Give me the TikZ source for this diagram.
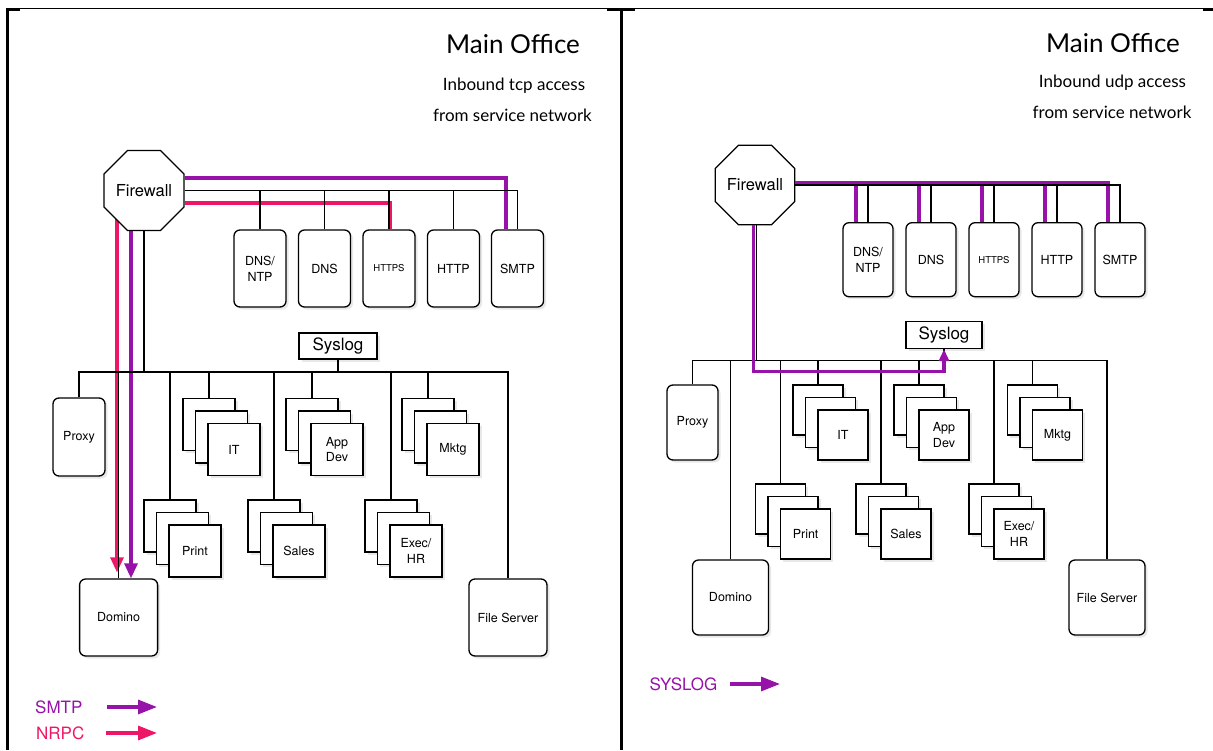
\documentclass[tikz,border=0pt]{standalone}
\usepackage{fontspec}
\setmainfont{TeX Gyre Heros}
\newfontfamily\titlefont{Lato}
\usetikzlibrary{shapes.geometric,shadows,arrows.meta,backgrounds}
\definecolor{smtpcol}{RGB}{150,18,168}
\definecolor{nrpccol}{RGB}{238,22,102}
\newcommand{\deptstack}[4]% name, x, y (back box), label
{\node[deptbox] (#1a) at (#2,#3) {};
\node[deptbox] (#1b) at (#2+12.5,#3+12.5) {};
\node[deptbox] (#1c) at (#2+25,#3+25) {#4};
}
\tikzset{
	wire/.style={line width=1.1pt},
	smtpline/.style={draw=smtpcol,line width=3.2pt},
	nrpcline/.style={draw=nrpccol,line width=3.2pt},
	syslogline/.style={smtpline},
	flowtip/.style={-{Triangle[length=15pt,width=13pt]}},
	logtip/.style={-{Triangle[length=12pt,width=10pt]}},
	keytip/.style={-{Triangle[length=19pt,width=14pt]}},
	boxshadow/.style={drop shadow={shadow xshift=2.5pt,shadow yshift=-2.5pt,opacity=0.18}},
	firewall/.style={regular polygon,regular polygon sides=8,draw,line width=1.3pt,fill=white,inner sep=0pt,font=\fontsize{16.5}{18}\selectfont},
	server/.style={draw,line width=1.3pt,fill=white,rounded corners=6pt,boxshadow,align=center,inner sep=0pt,font=\fontsize{12.5}{16}\selectfont},
	deptbox/.style={draw,line width=1.3pt,fill=white,boxshadow,align=center,minimum size=52pt,inner sep=0pt,font=\fontsize{12.5}{15.5}\selectfont},
	logbox/.style={draw,line width=1.3pt,fill=white,boxshadow,inner sep=0pt,font=\fontsize{17}{18}\selectfont},
	heading/.style={anchor=base,inner sep=0pt,font=\titlefont\fontsize{26}{28}\selectfont},
	subheading/.style={anchor=base,inner sep=0pt,font=\titlefont\fontsize{17}{19}\selectfont},
	keytext/.style={anchor=west,inner sep=0pt,font=\fontsize{17}{18}\selectfont},
}
\begin{document}
\begin{tikzpicture}[x=1pt,y=-1pt]
	\useasboundingbox (0,0) rectangle (1213,750);
	% frame of the two panels
	\draw[line width=1pt] (6,8) -- (1213,8);
	\draw[line width=3pt] (7.5,8) -- (7.5,750);
	\draw[line width=3pt] (621.5,8) -- (621.5,750);
	\draw[line width=2.5pt] (6,10) -- (20,10);
	\draw[line width=2.5pt] (607,10) -- (635,10);
	\draw[line width=2.5pt] (1203,10) -- (1213,10);

	% left panel: tcp
	\node[heading] (titleL) at (513,53) {Main Office};
	\node[subheading] (tcpL) at (514,90) {Inbound tcp access};
	\node[subheading] (fromL) at (512.5,121.5) {from service network};
	\node[firewall,minimum size=86.6pt] (fwL) at (144,190.5) {Firewall};
	\node[server,minimum width=52pt,minimum height=77pt] (dnsntpL) at (260,268.5) {DNS/\\NTP};
	\node[server,minimum width=52pt,minimum height=77pt] (dnsL) at (324.5,268.5) {DNS};
	\node[server,minimum width=52pt,minimum height=77pt,font=\fontsize{9.5}{11}\selectfont] (httpsL) at (389,268.5) {HTTPS};
	\node[server,minimum width=52pt,minimum height=77pt] (httpL) at (453.5,268.5) {HTTP};
	\node[server,minimum width=52pt,minimum height=77pt] (smtpL) at (517.5,268.5) {SMTP};
	\node[logbox,minimum width=78pt,minimum height=26pt] (syslogL) at (338,346) {Syslog};
	\node[server,minimum width=52pt,minimum height=78pt] (proxyL) at (79,437) {Proxy};
	\node[server,minimum width=78pt,minimum height=77pt] (dominoL) at (118.6,617.5) {Domino};
	\node[server,minimum width=78pt,minimum height=77pt] (fileL) at (508,617.5) {File Server};
	\deptstack{itL}{209}{424.5}{IT}
	\deptstack{appL}{312}{424.5}{App\\Dev}
	\deptstack{mktgL}{428}{424.5}{Mktg}
	\deptstack{printL}{170}{526}{Print}
	\deptstack{salesL}{274}{526}{Sales}
	\deptstack{execL}{391}{526}{Exec/\\HR}

	\coordinate (busL) at (0,372);
	\draw[nrpcline] ([yshift=-12.5pt]fwL.east) -| ([xshift=1pt]httpsL.north);
	\draw[smtpline] ([yshift=12.5pt]fwL.east) -| ([xshift=-11.5pt]smtpL.north);
	\draw[wire] (fwL.east) -| (smtpL.north);
	\foreach \s in {dnsntpL,dnsL,httpsL,httpL}
		\draw[wire] (\s.north) -- (\s.north |- fwL.east);
	\draw[wire] (fwL.south) -- (fwL.south |- busL);
	\draw[wire] (proxyL.north) |- (busL -| fileL.north) -- (fileL.north);
	\draw[wire] (syslogL.south) -- (syslogL.south |- busL);
	\foreach \s in {dominoL,itLa,appLa,mktgLa,printLa,salesLa,execLa}
		\draw[wire] (\s.north) -- (\s.north |- busL);
	% traffic into Domino
	\coordinate (nrpcL) at ([xshift=-27pt]fwL.center);
	\coordinate (smtpdL) at ([xshift=-13pt]fwL.center);
	\begin{scope}[on background layer]
		\draw[nrpcline,flowtip,shorten >=6pt] (nrpcL) -- (nrpcL |- dominoL.north);
		\draw[smtpline,flowtip] (smtpdL) -- (smtpdL |- dominoL.north);
	\end{scope}
	\node[keytext,text=smtpcol] (smtpkey) at (35,707) {SMTP};
	\node[keytext,text=nrpccol] (nrpckey) at (36,733) {NRPC};
	\coordinate (smtpkeyend) at (157,707);
	\coordinate (nrpckeyend) at (157,733);
	\draw[smtpline,keytip] ([xshift=24pt]smtpkey.east) -- (smtpkeyend);
	\draw[nrpcline,keytip] ([xshift=21pt]nrpckey.east) -- (nrpckeyend);

	% right panel: udp
	\node[heading] (titleR) at (1113,52) {Main Office};
	\node[subheading] (udpR) at (1112.5,87) {Inbound udp access};
	\node[subheading] (fromR) at (1112,118) {from service network};
	\node[firewall,minimum size=83.3pt] (fwR) at (755,185) {Firewall};
	\node[server,minimum width=50pt,minimum height=74pt] (dnsntpR) at (868,259.7) {DNS/\\NTP};
	\node[server,minimum width=50pt,minimum height=74pt] (dnsR) at (931,259.7) {DNS};
	\node[server,minimum width=50pt,minimum height=74pt,font=\fontsize{9.5}{11}\selectfont] (httpsR) at (994,259.7) {HTTPS};
	\node[server,minimum width=50pt,minimum height=74pt] (httpR) at (1057,259.7) {HTTP};
	\node[server,minimum width=50pt,minimum height=74pt] (smtpR) at (1120,259.7) {SMTP};
	\node[logbox,minimum width=76pt,minimum height=27pt] (syslogR) at (944,335) {Syslog};
	\node[server,minimum width=51pt,minimum height=75pt] (proxyR) at (692.5,422.5) {Proxy};
	\node[server,minimum width=76pt,minimum height=75pt] (dominoR) at (730.5,597.5) {Domino};
	\node[server,minimum width=76pt,minimum height=75pt] (fileR) at (1107,597.5) {File Server};
	\begin{scope}[deptbox/.append style={minimum size=50pt}]
		\deptstack{itR}{818}{410}{IT}
		\deptstack{appR}{919}{410}{App\\Dev}
		\deptstack{mktgR}{1032.5}{410}{Mktg}
		\deptstack{printR}{780.6}{509}{Print}
		\deptstack{salesR}{881}{509}{Sales}
		\deptstack{execR}{994}{509}{Exec/\\HR}
	\end{scope}

	\coordinate (busR) at (0,360.7);
	\coordinate (purpR) at ([yshift=2pt]fwR.east);
	\draw[syslogline] (purpR) -| ([xshift=-12pt]smtpR.north);
	\foreach \s in {dnsntpR,dnsR,httpsR,httpR}{
		\coordinate (p\s) at ([xshift=-12pt]\s.north);
		\draw[syslogline] (p\s) -- (p\s |- purpR);
	}
	\draw[wire] (fwR.east) -| (smtpR.north);
	\foreach \s in {dnsntpR,dnsR,httpsR,httpR}
		\draw[wire] (\s.north) -- (\s.north |- fwR.east);
	\coordinate (fwRk) at ([xshift=1.2pt]fwR.south);
	\draw[wire] (fwRk) -- (fwRk |- busR);
	\draw[wire] (proxyR.north) |- (busR -| fileR.north) -- (fileR.north);
	\draw[wire] (syslogR.south) -- (syslogR.south |- busR);
	\foreach \s in {dominoR,itRa,appRa,mktgRa,printRa,salesRa,execRa}
		\draw[wire] (\s.north) -- (\s.north |- busR);
	% syslog traffic back in
	\coordinate (fwRp) at ([xshift=-1.2pt]fwR.south);
	\coordinate (loopR) at (0,371.7);
	\draw[syslogline,logtip] (fwRp) |- (loopR -| syslogR.south) -- (syslogR.south);
	\node[keytext,text=smtpcol] (syslogkey) at (649.5,684) {SYSLOG};
	\coordinate (syslogkeyend) at (780,684);
	\draw[syslogline,keytip] ([xshift=12.5pt]syslogkey.east) -- (syslogkeyend);
\end{tikzpicture}
\end{document}
